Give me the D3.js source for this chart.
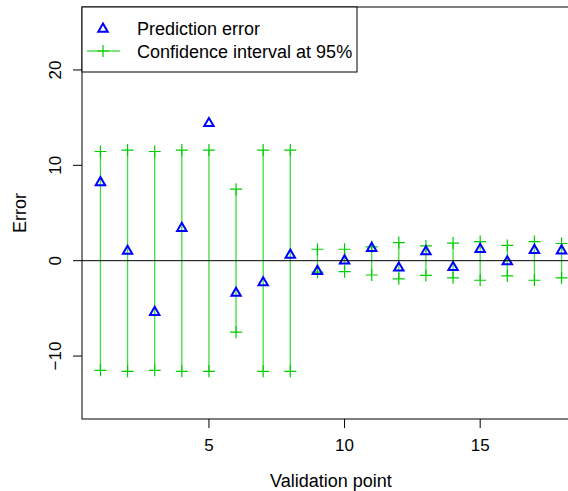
<!DOCTYPE html>
<html>
<head>
<meta charset="utf-8">
<script src="https://cdn.jsdelivr.net/npm/d3@7"></script>
<style>
  html, body { margin: 0; padding: 0; background: #ffffff; }
  svg { display: block; }
  text { font-family: "Liberation Sans", Arial, Helvetica, sans-serif; fill: #000; }
</style>
</head>
<body>
<svg id="chart" width="568" height="491"></svg>
<script>
// ---- data ----
const points = [1, 2, 3, 4, 5, 6, 7, 8, 9, 10, 11, 12, 13, 14, 15, 16, 17, 18];
const predictionError = [8.2, 1.0, -5.4, 3.4, 14.4, -3.4, -2.3, 0.6, -1.1, 0.0, 1.3, -0.75, 0.95, -0.7, 1.2, -0.1, 1.1, 1.05];
const ciUpper = [11.45, 11.6, 11.45, 11.6, 11.6, 7.5, 11.6, 11.6, 1.2, 1.2, 1.45, 1.9, 1.55, 1.85, 2.0, 1.6, 2.0, 1.8];
const ciLower = [-11.5, -11.6, -11.5, -11.6, -11.6, -7.5, -11.6, -11.6, -1.2, -1.15, -1.5, -1.9, -1.55, -1.8, -2.05, -1.6, -2.05, -1.8];
const xTicks = [5, 10, 15];
const yTicks = [-10, 0, 10, 20];
const legendLabels = ["Prediction error", "Confidence interval at 95%"];
const xTitle = "Validation point";
const yTitle = "Error";

// ---- layout ----
const svg = d3.select("#chart");
const plotL = 82, plotR = 580, plotT = 7, plotB = 419;
const x = d3.scaleLinear().domain([0.32, 18.68]).range([plotL, plotR]);
const y = d3.scaleLinear().domain([-16.6, 26.6]).range([plotB, plotT]);
const blue = "#0000ff";
const green = "#00cd00";

// CI vertical segments
svg.append("g").selectAll("line").data(points).join("line")
  .attr("x1", (d) => x(d)).attr("x2", (d) => x(d))
  .attr("y1", (d, i) => y(ciUpper[i])).attr("y2", (d, i) => y(ciLower[i]))
  .attr("stroke", green).attr("stroke-opacity", 0.75).attr("stroke-width", 1.3);

// crosses (pch 3)
function crossPath(cx, cy, h) {
  return `M${cx - h},${cy}H${cx + h}M${cx},${cy - h}V${cy + h}`;
}
const crossData = [];
points.forEach((p, i) => { crossData.push([p, ciUpper[i]]); crossData.push([p, ciLower[i]]); });
svg.append("g").selectAll("path").data(crossData).join("path")
  .attr("d", (d) => crossPath(x(d[0]), y(d[1]), 6))
  .attr("stroke", green).attr("stroke-width", 1.2).attr("fill", "none");

// triangles (pch 2)
function triPath(cx, cy, s) {
  const r = 1.555 * s, hw = 1.347 * s, yc = 0.778 * s;
  return `M${cx},${cy - r}L${cx + hw},${cy + yc}L${cx - hw},${cy + yc}Z`;
}
svg.append("g").selectAll("path").data(points).join("path")
  .attr("d", (d, i) => triPath(x(d), y(predictionError[i]), 3.5))
  .attr("stroke", blue).attr("stroke-width", 2).attr("fill", "none")
  .attr("stroke-linejoin", "miter");

// horizontal zero line
svg.append("line")
  .attr("x1", plotL).attr("x2", plotR)
  .attr("y1", y(0)).attr("y2", y(0))
  .attr("stroke", "#000").attr("stroke-width", 1);

// box
svg.append("rect")
  .attr("x", plotL).attr("y", plotT).attr("width", plotR - plotL).attr("height", plotB - plotT)
  .attr("fill", "none").attr("stroke", "#000").attr("stroke-width", 1);

// x axis ticks
const xg = svg.append("g");
xg.selectAll("line").data(xTicks).join("line")
  .attr("x1", (d) => x(d)).attr("x2", (d) => x(d))
  .attr("y1", plotB).attr("y2", plotB + 9)
  .attr("stroke", "#000");
xg.selectAll("text").data(xTicks).join("text")
  .attr("x", (d) => x(d)).attr("y", 451)
  .attr("text-anchor", "middle").attr("font-size", 17)
  .text((d) => d);

// y axis ticks
const yg = svg.append("g");
yg.selectAll("line").data(yTicks).join("line")
  .attr("x1", plotL - 9).attr("x2", plotL)
  .attr("y1", (d) => y(d)).attr("y2", (d) => y(d))
  .attr("stroke", "#000");
yg.selectAll("text").data(yTicks).join("text")
  .attr("transform", (d) => `translate(61,${y(d)}) rotate(-90)`)
  .attr("text-anchor", "middle").attr("font-size", 17)
  .text((d) => d < 0 ? "\u2212" + Math.abs(d) : d);

// axis titles
svg.append("text")
  .attr("x", x(9.5)).attr("y", 487)
  .attr("text-anchor", "middle").attr("font-size", 18)
  .text(xTitle);
svg.append("text")
  .attr("transform", `translate(26,${(plotT + plotB) / 2}) rotate(-90)`)
  .attr("text-anchor", "middle").attr("font-size", 18)
  .text(yTitle);

// legend
const lg = svg.append("g");
lg.append("rect")
  .attr("x", plotL).attr("y", plotT).attr("width", 275).attr("height", 65)
  .attr("fill", "#fff").attr("stroke", "#000").attr("stroke-width", 1);
lg.append("path")
  .attr("d", triPath(103, 29, 3.5))
  .attr("stroke", blue).attr("stroke-width", 2).attr("fill", "none");
lg.append("line")
  .attr("x1", 87).attr("x2", 120).attr("y1", 51).attr("y2", 51)
  .attr("stroke", green).attr("stroke-width", 1.2);
lg.append("path")
  .attr("d", crossPath(103, 51, 6))
  .attr("stroke", green).attr("stroke-width", 1.2).attr("fill", "none");
lg.selectAll("text").data(legendLabels).join("text")
  .attr("x", 137).attr("y", (d, i) => 34.5 + i * 23)
  .attr("font-size", 18)
  .text((d) => d);
</script>
</body>
</html>
